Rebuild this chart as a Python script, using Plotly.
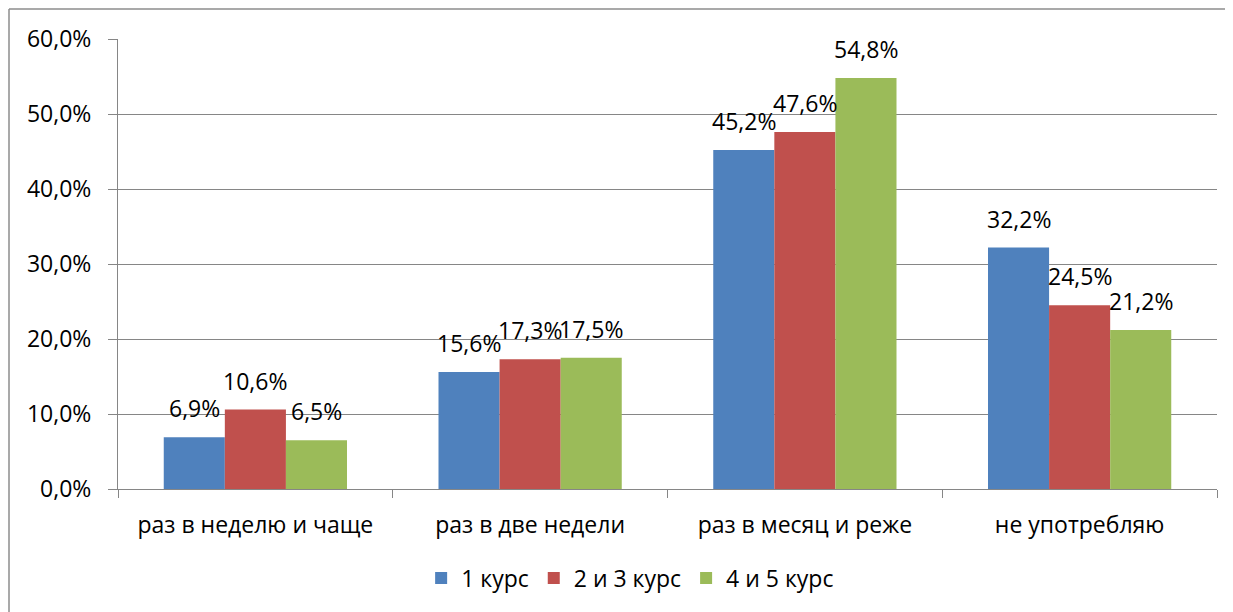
import plotly.graph_objects as go

categories = ["раз в неделю и чаще", "раз в две недели", "раз в месяц и реже", "не употребляю"]
series_names = ["1 курс", "2 и 3 курс", "4 и 5 курс"]
values_1 = [6.9, 15.6, 45.2, 32.2]
values_23 = [10.6, 17.3, 47.6, 24.5]
values_45 = [6.5, 17.5, 54.8, 21.2]
colors = ["#4F81BD", "#C0504D", "#9BBB59"]
y_ticks = [0, 10, 20, 30, 40, 50, 60]
y_tick_text = [f"{t:.1f}%".replace(".", ",") for t in y_ticks]

all_values = [values_1, values_23, values_45]

W, H = 1233, 612
ML, MR, MT, MB = 110, 24, 31, 131
BARGAP = 0.333
FONT = "Open Sans"
FS = 23

fig = go.Figure()
for name, vals, col in zip(series_names, all_values, colors):
    fig.add_trace(go.Bar(x=categories, y=vals, name=name,
                         marker=dict(color=col, line=dict(width=0))))

plot_w = W - ML - MR
plot_h = H - MT - MB
bar_px = plot_w / len(categories) * (1 - BARGAP) / len(series_names)
annotations = []
for i, vals in enumerate(all_values):
    for c, v in zip(categories, vals):
        annotations.append(dict(
            x=c, y=v, xref="x", yref="y",
            text=f"{v:.1f}%".replace(".", ","),
            showarrow=False, yanchor="bottom", xanchor="center",
            xshift=(i - 1) * bar_px, yshift=11,
            font=dict(family=FONT, size=FS, color="black")))

border = "#8c8c8c"
bx = (1 - ML) / plot_w
by = 1 + (MT - 1) / plot_h
shapes = [
    dict(type="line", xref="paper", yref="paper",
         x0=bx, x1=bx, y0=-0.5, y1=by,
         line=dict(color=border, width=1.5)),
    dict(type="line", xref="paper", yref="paper",
         x0=bx, x1=1.1, y0=by, y1=by,
         line=dict(color=border, width=1.5)),
]

fig.update_layout(
    width=W, height=H,
    margin=dict(l=ML, r=MR, t=MT, b=MB, pad=0, autoexpand=False),
    barmode="group", bargap=BARGAP, bargroupgap=0,
    plot_bgcolor="white", paper_bgcolor="white",
    font=dict(family=FONT, size=FS, color="black"),
    annotations=annotations, shapes=shapes,
    legend=dict(orientation="h", x=0.466, xanchor="center", y=-0.15, yanchor="top",
                font=dict(family=FONT, size=FS, color="black"),
                itemwidth=30, tracegroupgap=0, traceorder="normal"),
    showlegend=True,
)
fig.update_xaxes(
    type="category", tickson="boundaries", ticks="outside", ticklen=8,
    tickcolor="#868686", showline=True, linecolor="#868686", linewidth=1,
    showgrid=False, ticklabelstandoff=15,
    tickfont=dict(family=FONT, size=FS, color="black"),
)
fig.update_yaxes(
    range=[0, 60], tickvals=y_ticks, ticktext=y_tick_text,
    ticks="outside", ticklen=9, tickcolor="#868686",
    showline=True, linecolor="#868686", linewidth=1,
    showgrid=True, gridcolor="#868686", gridwidth=1, zeroline=False,
    ticklabelstandoff=12,
    tickfont=dict(family=FONT, size=FS, color="black"),
)

fig.write_html("out.html")
